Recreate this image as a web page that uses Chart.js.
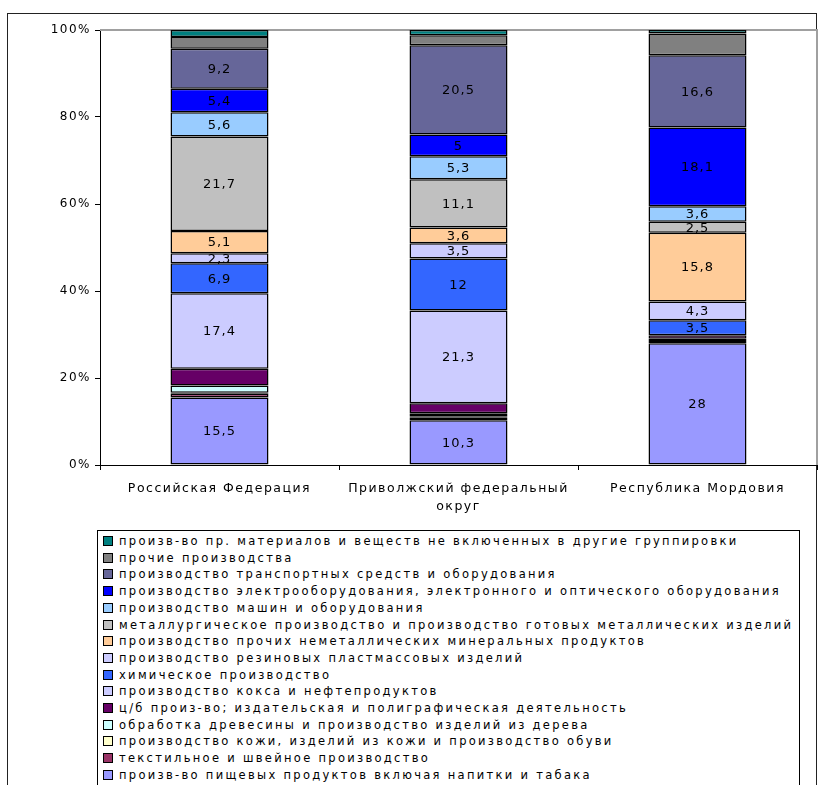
<!DOCTYPE html>
<html>
<head>
<meta charset="utf-8">
<script src="https://cdn.jsdelivr.net/npm/chart.js@4/dist/chart.umd.min.js"></script>
<style>
  body { margin: 0; background: #fff; width: 822px; height: 785px; overflow: hidden; position: relative; font-family: 'DejaVu Sans', sans-serif; }
  #frame { position: absolute; left: 7px; top: 13px; width: 808px; height: 800px; border: 1px solid #222; }
  #wrap { position: absolute; left: 0; top: 0; width: 822px; height: 525px; }
  #legend { position: absolute; left: 97px; top: 530px; width: 701px; height: 300px; border: 1px solid #000; overflow: hidden; background: #fff; }
  .row { position: absolute; left: 5px; height: 17px; white-space: nowrap; font-size: 11.5px; letter-spacing: 2.3px; color: #000; line-height: 17px; }
  .box { display: inline-block; width: 8px; height: 8px; border: 1px solid #000; vertical-align: -1px; margin-right: 6px; }
</style>
</head>
<body>
<div id="frame"></div>
<div id="wrap"><canvas id="chart"></canvas></div>
<div id="legend"></div>
<script>
// regions
const categories = ['Российская Федерация', ['Приволжский федеральный', 'округ'], 'Республика Мордовия'];

// series, bottom of the stack first (percent of total)
const food       = [15.5, 10.3, 28];
const textile    = [0.9, 0.7, 0.3];
const leather    = [0.2, 0.2, 0.2];
const wood       = [1.7, 0.7, 0.5];
const paper      = [3.8, 2.3, 0.8];
const coke       = [17.4, 21.3, 0];
const chemical   = [6.9, 12, 3.5];
const rubber     = [2.3, 3.5, 4.3];
const nonmetal   = [5.1, 3.6, 15.8];
const metal      = [21.7, 11.1, 2.5];
const machines   = [5.6, 5.3, 3.6];
const electrical = [5.4, 5, 18.1];
const transport  = [9.2, 20.5, 16.6];
const otherInd   = [2.7, 2.3, 5.0];
const misc       = [1.6, 1.2, 0.8];

const yTicks = [0, 20, 40, 60, 80, 100];

const series = [
  ['произв-во пищевых продуктов включая напитки и табака', food, '#9999FF', true],
  ['текстильное и швейное производство', textile, '#993366', false],
  ['производство кожи, изделий из кожи и производство обуви', leather, '#FFFFCC', false],
  ['обработка древесины и производство изделий из дерева', wood, '#CCFFFF', false],
  ['ц/б произ-во; издательская и полиграфическая деятельность', paper, '#660066', false],
  ['производство кокса и нефтепродуктов', coke, '#CCCCFF', true],
  ['химическое производство', chemical, '#3366FF', true],
  ['производство резиновых пластмассовых изделий', rubber, '#CCCCFF', true],
  ['производство прочих неметаллических минеральных продуктов', nonmetal, '#FFCC99', true],
  ['металлургическое производство и производство готовых металлических изделий', metal, '#C0C0C0', true],
  ['производство машин и оборудования', machines, '#99CCFF', true],
  ['производство электрооборудования, электронного и оптического оборудования', electrical, '#0000FF', true],
  ['производство транспортных средств и оборудования', transport, '#666699', true],
  ['прочие производства', otherInd, '#808080', false],
  ['произв-во пр. материалов и веществ не включенных в другие группировки', misc, '#008080', false]
];

const datasets = series.map(s => ({
  label: s[0],
  data: s[1],
  backgroundColor: s[2],
  borderColor: '#000',
  borderWidth: 1.5,
  borderSkipped: false,
  barPercentage: 0.41,
  categoryPercentage: 1,
  showValue: s[3]
}));

// wide lettering like the original font (canvas state is reset on resize, so set it often)
const spacing = {
  id: 'spacing',
  beforeUpdate(chart) { chart.ctx.letterSpacing = '1.5px'; },
  beforeLayout(chart) { chart.ctx.letterSpacing = '1.5px'; },
  beforeDraw(chart) { chart.ctx.letterSpacing = '1.5px'; }
};

// numbers inside the bars
const valueLabels = {
  id: 'valueLabels',
  afterDatasetsDraw(chart) {
    const ctx = chart.ctx;
    ctx.save();
    ctx.font = '13px "DejaVu Sans"';
    ctx.letterSpacing = '1px';
    ctx.fillStyle = '#000';
    ctx.textAlign = 'center';
    ctx.textBaseline = 'middle';
    chart.data.datasets.forEach((ds, i) => {
      if (!ds.showValue) return;
      chart.getDatasetMeta(i).data.forEach((bar, j) => {
        const v = ds.data[j];
        if (!v) return;
        const y = (bar.y + bar.base) / 2;
        ctx.fillText(String(v).replace('.', ','), bar.x, y + 1);
      });
    });
    ctx.restore();
  }
};

// grey frame of the plot area
const plotFrame = {
  id: 'plotFrame',
  beforeDatasetsDraw(chart) {
    const a = chart.chartArea;
    const ctx = chart.ctx;
    ctx.save();
    ctx.strokeStyle = '#a0a0a0';
    ctx.lineWidth = 2;
    ctx.beginPath();
    ctx.moveTo(a.left, a.top);
    ctx.lineTo(a.right, a.top);
    ctx.lineTo(a.right, a.bottom);
    ctx.stroke();
    ctx.restore();
  }
};

const chart = new Chart(document.getElementById('chart'), {
  type: 'bar',
  data: { labels: categories, datasets: datasets },
  options: {
    responsive: true,
    maintainAspectRatio: false,
    animation: false,
    layout: { padding: { top: 30, right: 5, bottom: 0, left: 0 } },
    plugins: {
      legend: { display: false },
      tooltip: { enabled: false },
      title: { display: false }
    },
    scales: {
      x: {
        stacked: true,
        grid: { offset: true, drawOnChartArea: false, drawTicks: true, tickLength: 5, color: '#000' },
        border: { color: '#000', width: 1 },
        ticks: { color: '#000', padding: 10, font: { family: 'DejaVu Sans', size: 12.5, lineHeight: 1.45 } },
        afterFit(scale) { scale.height = 60; }
      },
      y: {
        stacked: true,
        min: 0,
        max: 100,
        afterBuildTicks(scale) { scale.ticks = yTicks.map(v => ({ value: v })); },
        grid: { drawOnChartArea: false, drawTicks: true, tickLength: 5, color: '#000' },
        border: { color: '#000', width: 1 },
        ticks: { color: '#000', padding: 4, font: { family: 'DejaVu Sans', size: 12 }, callback: v => v + '%' },
        afterFit(scale) { scale.width = 100; }
      }
    }
  },
  plugins: [spacing, plotFrame, valueLabels]
});

// legend box, top entry = last series
const legend = document.getElementById('legend');
chart.data.datasets.slice().reverse().forEach((ds, i) => {
  const row = document.createElement('div');
  row.className = 'row';
  row.style.top = (2 + i * 16.7) + 'px';
  const box = document.createElement('span');
  box.className = 'box';
  box.style.background = ds.backgroundColor;
  row.appendChild(box);
  row.appendChild(document.createTextNode(ds.label));
  legend.appendChild(row);
});
</script>
</body>
</html>
